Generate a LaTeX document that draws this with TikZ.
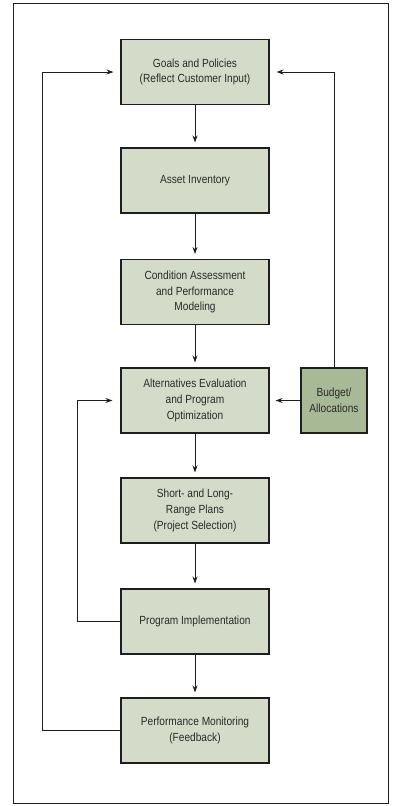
\documentclass[tikz,border=0pt]{standalone}
\usepackage{fontspec}
\setmainfont[FakeStretch=0.86]{Liberation Sans}
\usetikzlibrary{arrows.meta}
\definecolor{boxfill}{HTML}{D4DCC9}
\definecolor{budfill}{HTML}{A8B996}
\definecolor{linec}{HTML}{1E1E1E}
\definecolor{textc}{HTML}{2A2A2A}
\tikzset{
  stage/.style={draw=linec, line width=1.1pt, fill=boxfill, minimum width=148pt, minimum height=65pt,
    align=center, text=textc, font=\fontsize{11.8}{15.7}\selectfont, inner sep=2pt},
  budbox/.style={stage, fill=budfill, minimum width=66pt},
  arr/.style={draw=linec, line width=0.9pt, -{Stealth[length=7pt,width=5pt]}},
}
\begin{document}
\begin{tikzpicture}[x=1pt,y=-1pt]
\useasboundingbox (0,0) rectangle (405,806);
\fill[white] (0,0) rectangle (405,806);
\draw[linec, line width=1pt] (13,3) rectangle (388,803);
\node[stage] (b1) at (195,72) {Goals and Policies\\(Reflect Customer Input)};
\node[stage] (b2) at (195,180.5) {Asset Inventory};
\node[stage] (b3) at (195,292) {Condition Assessment\\and Performance\\Modeling};
\node[stage] (b4) at (195,400.5) {Alternatives Evaluation\\and Program\\Optimization};
\node[stage] (b5) at (195,510.5) {Short- and Long-\\Range Plans\\(Project Selection)};
\node[stage] (b6) at (195,621.5) {Program Implementation};
\node[stage] (b7) at (195,730.5) {Performance Monitoring\\(Feedback)};
\node[budbox] (bud) at (334,400.5) {Budget/\\Allocations};
\draw[arr, shorten >=5pt] (b1) -- (b2);
\draw[arr, shorten >=5pt] (b2) -- (b3);
\draw[arr, shorten >=5pt] (b3) -- (b4);
\draw[arr, shorten >=5pt] (b4) -- (b5);
\draw[arr, shorten >=5pt] (b5) -- (b6);
\draw[arr, shorten >=5pt] (b6) -- (b7);
\coordinate (fl) at (42,730.5);
\coordinate (il) at (77,621.5);
\draw[arr, shorten >=7pt] (b7.west) -- (fl) |- (b1.west);
\draw[arr, shorten >=8pt] (b6.west) -- (il) |- (b4.west);
\draw[arr, shorten >=6pt] (bud.west) -- (b4.east);
\draw[arr, shorten >=7pt] (bud.north) |- (b1.east);
\end{tikzpicture}
\end{document}
